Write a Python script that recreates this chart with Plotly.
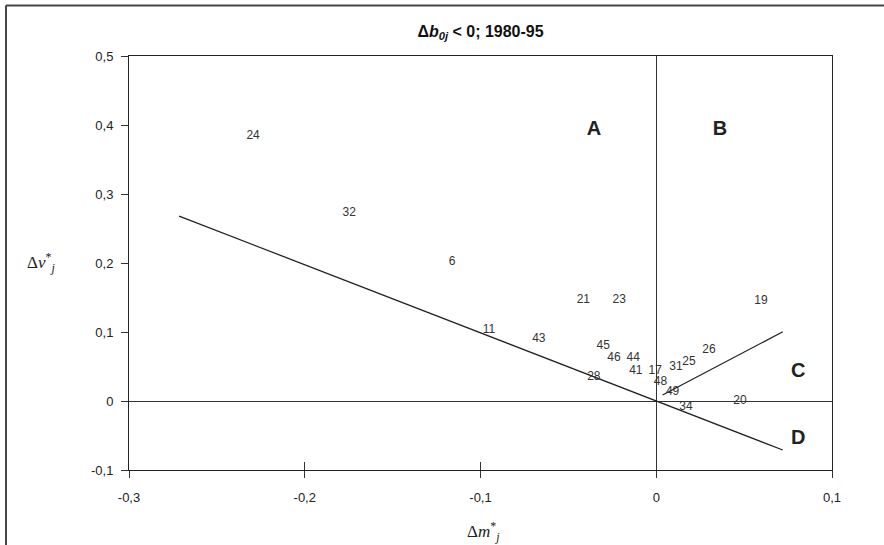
import plotly.graph_objects as go

# ---- data ----
point_labels = ["24", "32", "6", "21", "23", "19", "11", "43", "45", "46", "44",
                "41", "17", "48", "31", "25", "26", "28", "49", "34", "20"]
dm = [-0.2294, -0.1747, -0.1161, -0.0415, -0.0211, 0.0596, -0.0952, -0.0668, -0.0302,
      -0.0241, -0.0131, -0.0116, -0.0006, 0.0024, 0.0112, 0.0186, 0.0300, -0.0355,
      0.0093, 0.0169, 0.0476]
dv = [0.384, 0.272, 0.201, 0.147, 0.147, 0.145, 0.1025, 0.0899, 0.080,
      0.0619, 0.0619, 0.0439, 0.0439, 0.028, 0.0488, 0.057, 0.074, 0.0352,
      0.0135, -0.0083, 0.0]

line1_x = [-0.2715, 0.072]
line1_y = [0.268, -0.071]
line2_x = [0.0036, 0.072]
line2_y = [0.0087, 0.1004]

region_labels = ["A", "B", "C", "D"]
region_x = [-0.0355, 0.0363, 0.0808, 0.0808]
region_y = [0.393, 0.393, 0.0416, -0.055]

x_tickvals = [-0.3, -0.2, -0.1, 0, 0.1]
x_ticktext = ["-0,3", "-0,2", "-0,1", "0", "0,1"]
y_tickvals = [-0.1, 0, 0.1, 0.2, 0.3, 0.4, 0.5]
y_ticktext = ["-0,1", "0", "0,1", "0,2", "0,3", "0,4", "0,5"]

title_text = "<b>Δ<i>b</i><sub><i>0j</i></sub> < 0; 1980-95</b>"
x_title = "Δ<i>m</i><sup>*</sup><sub><i>j</i></sub>"
y_title = "Δ<i>v</i><sup>*</sup><sub><i>j</i></sub>"

W, H = 884, 545
ML, MR, MT, MB = 129, 52, 56, 75

fig = go.Figure()

fig.add_trace(go.Scatter(x=line1_x, y=line1_y, mode="lines",
                         line=dict(color="#222", width=1.3), hoverinfo="skip"))
fig.add_trace(go.Scatter(x=line2_x, y=line2_y, mode="lines",
                         line=dict(color="#222", width=1.3), hoverinfo="skip"))
fig.add_trace(go.Scatter(x=dm, y=dv, mode="text", text=point_labels,
                         textposition="middle center",
                         textfont=dict(family="Liberation Sans, Arial", size=12, color="#333")))
fig.add_trace(go.Scatter(x=region_x, y=region_y, mode="text", text=region_labels,
                         textposition="middle center",
                         textfont=dict(family="Liberation Sans, Arial", size=20, color="#222"),
                         texttemplate="<b>%{text}</b>"))
# invisible trace on overlay axis (for inner tick marks)
fig.add_trace(go.Scatter(x=[0], y=[0], xaxis="x2", mode="markers",
                         marker=dict(opacity=0), hoverinfo="skip"))

fig.update_layout(
    width=W, height=H,
    margin=dict(l=ML, r=MR, t=MT, b=MB),
    paper_bgcolor="white", plot_bgcolor="white",
    showlegend=False,
    title=dict(text=title_text, x=(ML + (W - ML - MR) / 2) / W, xanchor="center",
               y=1 - 31 / H, yanchor="middle",
               font=dict(family="Liberation Sans, Arial", size=16, color="#111")),
    xaxis=dict(range=[-0.3, 0.1], tickvals=x_tickvals, ticktext=x_ticktext,
               ticks="outside", ticklen=7, tickcolor="#333", tickwidth=1,
               showgrid=False, zeroline=True, zerolinecolor="#333", zerolinewidth=1,
               showline=True, linecolor="#222", linewidth=1, mirror=True,
               ticklabelstandoff=8,
               tickfont=dict(family="Liberation Sans, Arial", size=13, color="#222")),
    xaxis2=dict(range=[-0.3, 0.1], overlaying="x", side="bottom", tickvals=x_tickvals,
                ticks="inside", ticklen=8, tickcolor="#333", tickwidth=1,
                showticklabels=False, showgrid=False, zeroline=False, showline=False),
    yaxis=dict(range=[-0.1, 0.5], tickvals=y_tickvals, ticktext=y_ticktext,
               ticks="outside", ticklen=7, tickcolor="#333", tickwidth=1,
               showgrid=False, zeroline=True, zerolinecolor="#333", zerolinewidth=1,
               showline=True, linecolor="#222", linewidth=1, mirror=True,
               ticklabelstandoff=5,
               tickfont=dict(family="Liberation Sans, Arial", size=13, color="#222")),
)

pw = W - ML - MR
ph = H - MT - MB


def px_to_paper_x(px):
    return (px - ML) / pw


def py_to_paper_y(py):
    return (H - MB - py) / ph


fig.add_annotation(text=x_title, xref="paper", yref="paper",
                   x=px_to_paper_x(483), y=py_to_paper_y(531),
                   showarrow=False, xanchor="center", yanchor="middle",
                   font=dict(family="Liberation Serif, Times New Roman", size=17, color="#222"))
fig.add_annotation(text=y_title, xref="paper", yref="paper",
                   x=px_to_paper_x(41), y=py_to_paper_y(262),
                   showarrow=False, xanchor="center", yanchor="middle",
                   font=dict(family="Liberation Serif, Times New Roman", size=17, color="#222"))

# outer frame (top and left edges)
fig.add_shape(type="line", xref="paper", yref="paper",
              x0=px_to_paper_x(6), x1=px_to_paper_x(890),
              y0=py_to_paper_y(5.5), y1=py_to_paper_y(5.5),
              line=dict(color="#444", width=2))
fig.add_shape(type="line", xref="paper", yref="paper",
              x0=px_to_paper_x(6), x1=px_to_paper_x(6),
              y0=py_to_paper_y(5.5), y1=py_to_paper_y(550),
              line=dict(color="#444", width=2))

fig.write_html("out.html", config={"displayModeBar": False},
               post_script="document.body.style.margin='0px';")
